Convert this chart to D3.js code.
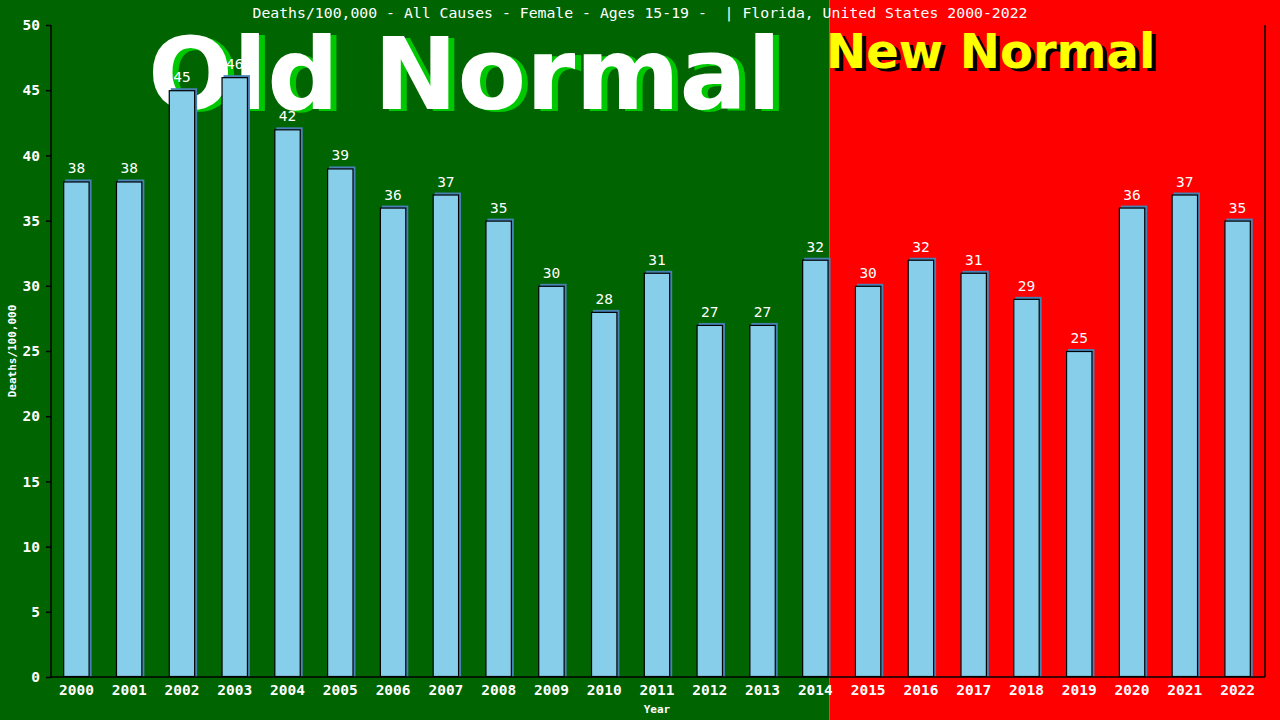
<!DOCTYPE html>
<html>
<head>
<meta charset="utf-8">
<script src="https://cdn.jsdelivr.net/npm/d3@7"></script>
<style>
  body { margin: 0; background: #fff; }
  svg { display: block; }
</style>
</head>
<body>
<svg id="chart" width="1280" height="720"></svg>
<script>
const years = ["2000","2001","2002","2003","2004","2005","2006","2007","2008","2009","2010","2011",
               "2012","2013","2014","2015","2016","2017","2018","2019","2020","2021","2022"];
const deaths = [38,38,45,46,42,39,36,37,35,30,28,31,27,27,32,30,32,31,29,25,36,37,35];
const yTicks = [0,5,10,15,20,25,30,35,40,45,50];
const lastOldYear = "2014";
const title = "Deaths/100,000 - All Causes - Female - Ages 15-19 -  | Florida, United States 2000-2022";

const svg = d3.select("#chart");
const width = 1280, height = 720;
const plotLeft = 51, plotRight = 1265, plotTop = 25, plotBottom = 677;
const mono = "'DejaVu Sans Mono', monospace";

const x = d3.scaleBand().domain(years).range([plotLeft - 1, plotRight - 1]).padding(0.5).paddingOuter(0.25);
const y = d3.scaleLinear().domain([0, 50]).range([plotBottom, plotTop]);

// old / new normal backgrounds
const split = x(lastOldYear) + x.bandwidth() + 1;
svg.append("rect").attr("x", 0).attr("y", 0).attr("width", split).attr("height", height).attr("fill", "#006400");
svg.append("rect").attr("x", split).attr("y", 0).attr("width", width - split).attr("height", height).attr("fill", "#ff0000");

// big labels
const big = "'DejaVu Sans', sans-serif";
svg.append("text").attr("x", 154).attr("y", 111).attr("font-family", big).attr("font-weight", "bold")
  .attr("font-size", 100).attr("fill", "#00c800").text("Old Normal");
svg.append("text").attr("x", 148).attr("y", 109).attr("font-family", big).attr("font-weight", "bold")
  .attr("font-size", 100).attr("fill", "#ffffff").text("Old Normal");
svg.append("text").attr("x", 830).attr("y", 71).attr("font-family", big).attr("font-weight", "bold")
  .attr("font-size", 48).attr("fill", "#000").text("New Normal");
svg.append("text").attr("x", 826).attr("y", 68).attr("font-family", big).attr("font-weight", "bold")
  .attr("font-size", 48).attr("fill", "#ffff00").text("New Normal");

// title
svg.append("text").attr("x", 640).attr("y", 18).attr("text-anchor", "middle")
  .style("white-space", "pre")
  .attr("font-family", mono).attr("font-size", 14.8).attr("fill", "#fff").text(title);

// bars: shadow then main
const bars = svg.append("g");
bars.selectAll("rect.shadow").data(deaths).enter().append("rect")
  .attr("class", "shadow")
  .attr("x", (d, i) => x(years[i]) + 2)
  .attr("y", d => y(d) - 2)
  .attr("width", x.bandwidth())
  .attr("height", d => plotBottom - y(d) + 2)
  .attr("fill", "#4682b4");
bars.selectAll("rect.bar").data(deaths).enter().append("rect")
  .attr("class", "bar")
  .attr("x", (d, i) => x(years[i]) + 0.5)
  .attr("y", d => y(d) + 0.5)
  .attr("width", x.bandwidth() - 1)
  .attr("height", d => plotBottom - y(d) - 1)
  .attr("fill", "#87ceeb").attr("stroke", "#000").attr("stroke-width", 1.2);

// value labels
svg.append("g").selectAll("text").data(deaths).enter().append("text")
  .attr("x", (d, i) => x(years[i]) + x.bandwidth() / 2)
  .attr("y", d => y(d) - 8)
  .attr("text-anchor", "middle")
  .attr("font-family", mono).attr("font-size", 14.5).attr("fill", "#fff")
  .text(d => d);

// axes
const yAxis = d3.axisLeft(y).tickValues(yTicks).tickSize(5).tickPadding(6);
const gy = svg.append("g").attr("transform", "translate(" + plotLeft + ",0)").call(yAxis);
gy.select(".domain").attr("stroke", "#000").attr("stroke-width", 1.5).attr("d", "M0," + plotTop + "V" + plotBottom);
gy.selectAll(".tick line").attr("stroke", "#000").attr("stroke-width", 1.5);
gy.selectAll(".tick text").attr("fill", "#fff").attr("font-family", mono).attr("font-size", 14.5).attr("font-weight", "bold");

const xAxis = d3.axisBottom(x).tickSize(0).tickPadding(8);
const gx = svg.append("g").attr("transform", "translate(0," + plotBottom + ")").call(xAxis);
gx.select(".domain").attr("stroke", "#000").attr("stroke-width", 1.5).attr("d", "M" + plotLeft + ",0H" + plotRight);
gx.selectAll(".tick text").attr("fill", "#fff").attr("font-family", mono).attr("font-size", 14.5).attr("font-weight", "bold");

svg.append("line").attr("x1", plotRight).attr("x2", plotRight).attr("y1", plotTop).attr("y2", plotBottom)
  .attr("stroke", "#000").attr("stroke-width", 1.5);

// axis titles
svg.append("text").attr("x", 657).attr("y", 713).attr("text-anchor", "middle")
  .attr("font-family", mono).attr("font-size", 11).attr("font-weight", "bold").attr("fill", "#fff").text("Year");
svg.append("text").attr("transform", "translate(16,351) rotate(-90)").attr("text-anchor", "middle")
  .attr("font-family", mono).attr("font-size", 11).attr("font-weight", "bold").attr("fill", "#fff").text("Deaths/100,000");
</script>
</body>
</html>
